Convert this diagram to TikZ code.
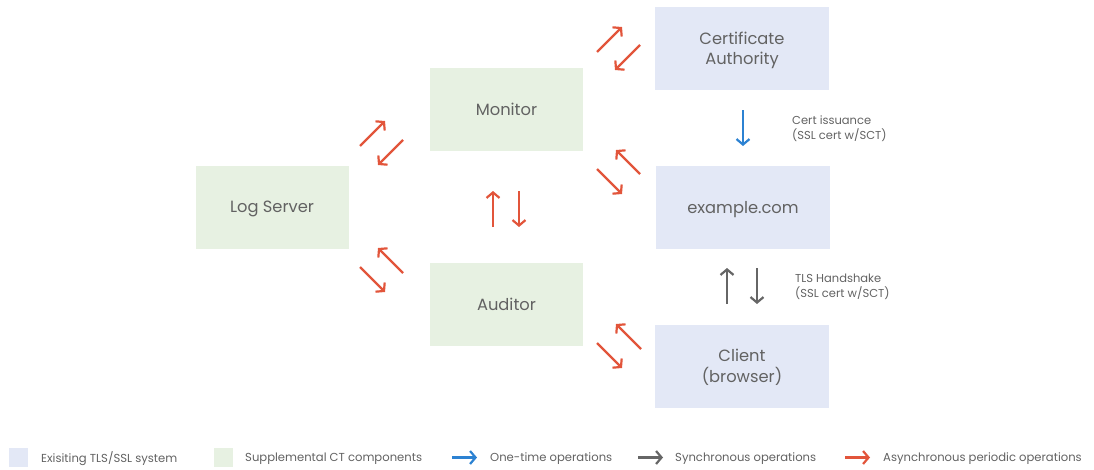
\documentclass[tikz,border=0pt]{standalone}
\usepackage{fontspec}
\setmainfont{Poppins}
\usetikzlibrary{arrows.meta}

\definecolor{sysblue}{HTML}{E3E8F6}
\definecolor{ctgreen}{HTML}{E7F1E2}
\definecolor{txtgray}{HTML}{626262}
\definecolor{asyncred}{HTML}{E2553B}
\definecolor{onceblue}{HTML}{2C82D2}
\definecolor{syncgray}{HTML}{666666}

\begin{document}
\begin{tikzpicture}[x=1pt,y=-1pt,
  box/.style={minimum width=#1, minimum height=83pt, inner sep=0pt,
    align=center, text=txtgray, font=\fontsize{16.3}{20.5}\selectfont,
    text depth=0pt},
  sysbox/.style={box=174pt, fill=sysblue},
  ctbox/.style={box=153pt, fill=ctgreen},
  op/.style={line width=2.2pt, -{Straight Barb[length=5.5pt,width=13pt]}},
  asyncop/.style={op, draw=asyncred},
  onceop/.style={op, draw=onceblue},
  syncop/.style={op, draw=syncgray},
  note/.style={anchor=west, align=left, inner sep=0pt, text=txtgray,
    font=\fontsize{11.5}{15}\selectfont},
  legtext/.style={anchor=west, inner sep=0pt, text=txtgray,
    font=\fontsize{11.6}{14}\selectfont},
  legkey/.style={minimum size=19pt, inner sep=0pt}
]
\useasboundingbox (0,0) rectangle (1094,469);

% main components
\node[sysbox] (ca)      at (742,48.5)    {Certificate\\Authority};
\node[ctbox]  (monitor) at (506.5,109.5) {Monitor};
\node[sysbox] (site)    at (743,207.5)   {example.com};
\node[ctbox]  (log)     at (272,207)     {Log Server};
\node[ctbox]  (auditor) at (506.5,304.5) {Auditor};
\node[sysbox] (client)  at (742,366)     {Client\\(browser)};

% Log Server <-> Monitor
\coordinate (lm1a) at (360,146); \coordinate (lm1b) at (385,121);
\coordinate (lm2a) at (403,140); \coordinate (lm2b) at (378,165);
\draw[asyncop] (lm1a) -- (lm1b);
\draw[asyncop] (lm2a) -- (lm2b);

% Monitor <-> Certificate Authority
\coordinate (mc1a) at (597,52); \coordinate (mc1b) at (622,27);
\coordinate (mc2a) at (640,45); \coordinate (mc2b) at (615,70);
\draw[asyncop] (mc1a) -- (mc1b);
\draw[asyncop] (mc2a) -- (mc2b);

% Monitor <-> example.com
\coordinate (ms1a) at (640,174); \coordinate (ms1b) at (616,150);
\coordinate (ms2a) at (597,169); \coordinate (ms2b) at (622,194);
\draw[asyncop] (ms1a) -- (ms1b);
\draw[asyncop] (ms2a) -- (ms2b);

% Monitor <-> Auditor
\coordinate (ma1a) at (493,227); \coordinate (ma1b) at (493,191);
\coordinate (ma2a) at (519,191); \coordinate (ma2b) at (519,227);
\draw[asyncop] (ma1a) -- (ma1b);
\draw[asyncop] (ma2a) -- (ma2b);

% Log Server <-> Auditor
\coordinate (la1a) at (403,273); \coordinate (la1b) at (378,248);
\coordinate (la2a) at (360,267); \coordinate (la2b) at (385,292);
\draw[asyncop] (la1a) -- (la1b);
\draw[asyncop] (la2a) -- (la2b);

% Auditor <-> Client
\coordinate (ac1a) at (641,349); \coordinate (ac1b) at (616,324);
\coordinate (ac2a) at (597,343); \coordinate (ac2b) at (622,368);
\draw[asyncop] (ac1a) -- (ac1b);
\draw[asyncop] (ac2a) -- (ac2b);

% certificate issuance
\coordinate (iss1) at (743,110); \coordinate (iss2) at (743,146);
\draw[onceop] (iss1) -- (iss2);
\node[note] (issnote) at (792,128.5) {Cert issuance\\(SSL cert w/SCT)};

% TLS handshake
\coordinate (tls1a) at (727,304); \coordinate (tls1b) at (727,268);
\coordinate (tls2a) at (757,268); \coordinate (tls2b) at (757,304);
\draw[syncop] (tls1a) -- (tls1b);
\draw[syncop] (tls2a) -- (tls2b);
\node[note] (tlsnote) at (795,287) {TLS Handshake\\(SSL cert w/SCT)};

% legend
\node[legkey, fill=sysblue] (k1) at (18,457.5) {};
\node[legtext] (t1) at (41,458.5) {Exisiting TLS/SSL system};
\node[legkey, fill=ctgreen] (k2) at (223,457.5) {};
\node[legtext] (t2) at (245,458.5) {Supplemental CT components};
\coordinate (k3a) at (452,457.5); \coordinate (k3b) at (477,457.5);
\draw[onceop] (k3a) -- (k3b);
\node[legtext] (t3) at (490,458.5) {One-time operations};
\coordinate (k4a) at (638,457.5); \coordinate (k4b) at (663,457.5);
\draw[syncop] (k4a) -- (k4b);
\node[legtext] (t4) at (675,458.5) {Synchronous operations};
\coordinate (k5a) at (845,457.5); \coordinate (k5b) at (870,457.5);
\draw[asyncop] (k5a) -- (k5b);
\node[legtext] (t5) at (883,458.5) {Asynchronous periodic operations};
\end{tikzpicture}
\end{document}
